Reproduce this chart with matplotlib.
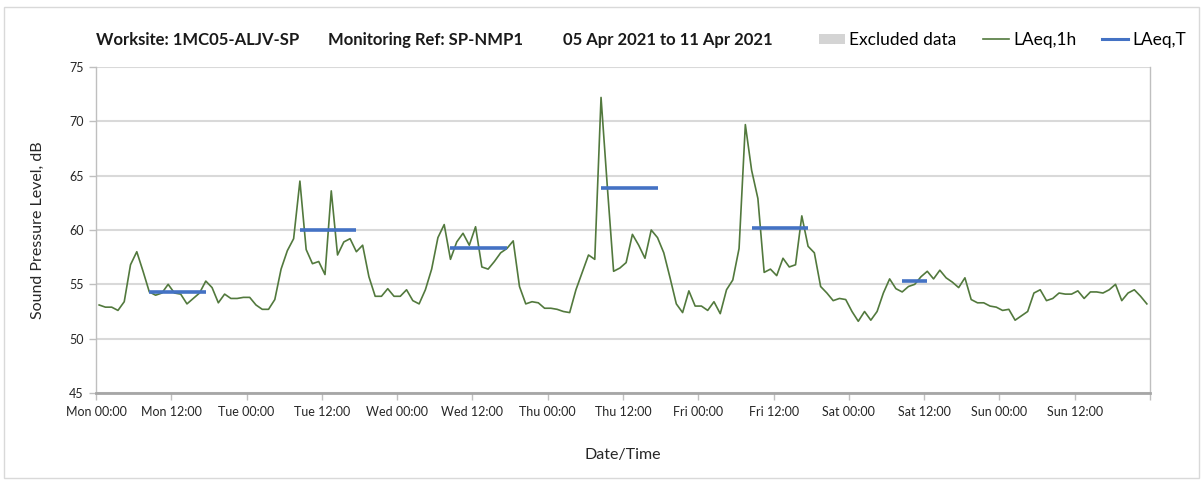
import numpy as np
import pandas as pd
import matplotlib
matplotlib.use("Agg")
import matplotlib.pyplot as plt
import matplotlib.dates as mdates
from matplotlib.patches import Patch, Rectangle
from matplotlib.lines import Line2D

plt.rcParams['font.family'] = ['Lato', 'DejaVu Sans']

# ---------------- data ----------------
start_time = "2021-04-05 00:30"
n_hours = 168

laeq_1h = [
    # Mon
    53.1, 52.9, 52.9, 52.6, 53.4, 56.8, 58.0, 56.2, 54.3, 54.0, 54.2, 55.0,
    54.2, 54.1, 53.2, 53.7, 54.2, 55.3, 54.7, 53.3, 54.1, 53.7, 53.7, 53.8,
    # Tue
    53.8, 53.1, 52.7, 52.7, 53.6, 56.4, 58.1, 59.2, 64.5, 58.2, 56.9, 57.1,
    55.9, 63.6, 57.7, 58.9, 59.2, 58.0, 58.6, 55.7, 53.9, 53.9, 54.6, 53.9,
    # Wed
    53.9, 54.5, 53.5, 53.2, 54.5, 56.4, 59.3, 60.5, 57.3, 58.9, 59.7, 58.6,
    60.3, 56.6, 56.4, 57.1, 57.9, 58.3, 59.0, 54.8, 53.2, 53.4, 53.3, 52.8,
    # Thu
    52.8, 52.7, 52.5, 52.4, 54.5, 56.1, 57.7, 57.3, 72.2, 64.0, 56.2, 56.5,
    57.0, 59.6, 58.6, 57.4, 60.0, 59.3, 57.9, 55.6, 53.2, 52.4, 54.4, 53.0,
    # Fri
    53.0, 52.6, 53.4, 52.3, 54.5, 55.4, 58.3, 69.7, 65.5, 62.9, 56.1, 56.4,
    55.8, 57.4, 56.6, 56.8, 61.3, 58.5, 57.9, 54.8, 54.2, 53.5, 53.7, 53.6,
    # Sat
    52.5, 51.6, 52.5, 51.7, 52.5, 54.2, 55.5, 54.6, 54.3, 54.8, 55.0, 55.7,
    56.2, 55.5, 56.3, 55.6, 55.2, 54.7, 55.6, 53.6, 53.3, 53.3, 53.0, 52.9,
    # Sun
    52.6, 52.7, 51.7, 52.1, 52.5, 54.2, 54.5, 53.5, 53.7, 54.2, 54.1, 54.1,
    54.4, 53.7, 54.3, 54.3, 54.2, 54.5, 55.0, 53.5, 54.2, 54.5, 53.9, 53.2,
]

laeq_t_start = ["2021-04-05 08:30", "2021-04-06 08:30", "2021-04-07 08:30",
                "2021-04-08 08:30", "2021-04-09 08:30", "2021-04-10 08:30"]
laeq_t_end = ["2021-04-05 17:30", "2021-04-06 17:30", "2021-04-07 17:30",
              "2021-04-08 17:30", "2021-04-09 17:30", "2021-04-10 12:30"]
laeq_t_value = [54.25, 60.0, 58.3, 63.9, 60.2, 55.3]

y_ticks = [45, 50, 55, 60, 65, 70, 75]

title_parts = ["Worksite: 1MC05-ALJV-SP", "Monitoring Ref: SP-NMP1",
               "05 Apr 2021 to 11 Apr 2021"]
legend_labels = ["Excluded data", "LAeq,1h", "LAeq,T"]

# ---------------- figure ----------------
W, H = 1203, 480
fig = plt.figure(figsize=(W / 100, H / 100), dpi=100)
fig.patch.set_facecolor("white")

# outer frame
fig.add_artist(Rectangle((4 / W, 1 - 478 / H), (1199 - 4) / W, (478 - 7) / H,
                         transform=fig.transFigure, fill=False,
                         edgecolor="#d9d9d9", linewidth=1.0))

ax_left, ax_right, ax_top, ax_bottom = 96, 1150, 67, 393
ax = fig.add_axes([ax_left / W, 1 - ax_bottom / H,
                   (ax_right - ax_left) / W, (ax_bottom - ax_top) / H])

times = pd.date_range(start_time, periods=n_hours, freq="h")

green = "#52793d"
blue = "#4472c4"
grid_c = "#d9d9d9"

ax.plot(times, laeq_1h, color=green, linewidth=1.2, zorder=3)
for s, e, v in zip(laeq_t_start, laeq_t_end, laeq_t_value):
    ax.plot([pd.Timestamp(s), pd.Timestamp(e)], [v, v], color=blue,
            linewidth=2.6, solid_capstyle="butt", zorder=4)

ax.set_xlim(pd.Timestamp("2021-04-05 00:00"), pd.Timestamp("2021-04-12 00:00"))
ax.set_ylim(45, 75)
ax.set_yticks(y_ticks)

ax.xaxis.set_major_locator(mdates.HourLocator(byhour=[0, 12]))
end_num = mdates.date2num(pd.Timestamp("2021-04-12 00:00"))


def fmt(x, pos=None):
    if abs(x - end_num) < 1e-6:
        return ""
    return mdates.num2date(x).strftime("%a %H:%M")


ax.xaxis.set_major_formatter(plt.FuncFormatter(fmt))
ax.xaxis.set_minor_locator(mdates.DayLocator())

ax.grid(False)
ax.grid(axis="y", which="major", color=grid_c, linewidth=1.5, zorder=0)
ax.grid(axis="x", which="minor", color=grid_c, linewidth=1.5, zorder=0)
ax.tick_params(axis="x", which="minor", length=0)
ax.tick_params(axis="x", which="major", length=5, width=1, color="#bfbfbf",
               labelsize=9, labelcolor="#262626", pad=4)
ax.tick_params(axis="y", which="major", length=5, width=1, color="#bfbfbf",
               labelsize=9, labelcolor="#262626", pad=4)

ax.spines["top"].set_visible(False)
ax.spines["left"].set_color("#bfbfbf")
ax.spines["left"].set_linewidth(1.0)
ax.spines["right"].set_color("#bfbfbf")
ax.spines["right"].set_linewidth(1.0)
ax.spines["bottom"].set_color("#a6a6a6")
ax.spines["bottom"].set_linewidth(2.0)

ax.set_ylabel("Sound Pressure Level, dB", fontsize=11.5, color="#262626",
              labelpad=17)
ax.set_xlabel("Date/Time", fontsize=11.5, color="#262626", labelpad=22)

# title pieces
title_x = [96, 328, 563]
for tx, t in zip(title_x, title_parts):
    fig.text(tx / W, 1 - 40 / H, t, fontsize=12, fontweight="bold",
             ha="left", va="center", color="#1a1a1a")

handles = [Patch(facecolor="#d4d4d4", edgecolor="none"),
           Line2D([], [], color=green, linewidth=1.2),
           Line2D([], [], color=blue, linewidth=2.2)]
fig.legend(handles, legend_labels, loc="center left",
           bbox_to_anchor=(819 / W, 1 - 40 / H), ncol=3, frameon=False,
           fontsize=12.5, handlelength=1.5, handleheight=0.55,
           handletextpad=0.25, columnspacing=1.5, borderpad=0, borderaxespad=0)

fig.savefig("out.png", dpi=100, facecolor="white")
